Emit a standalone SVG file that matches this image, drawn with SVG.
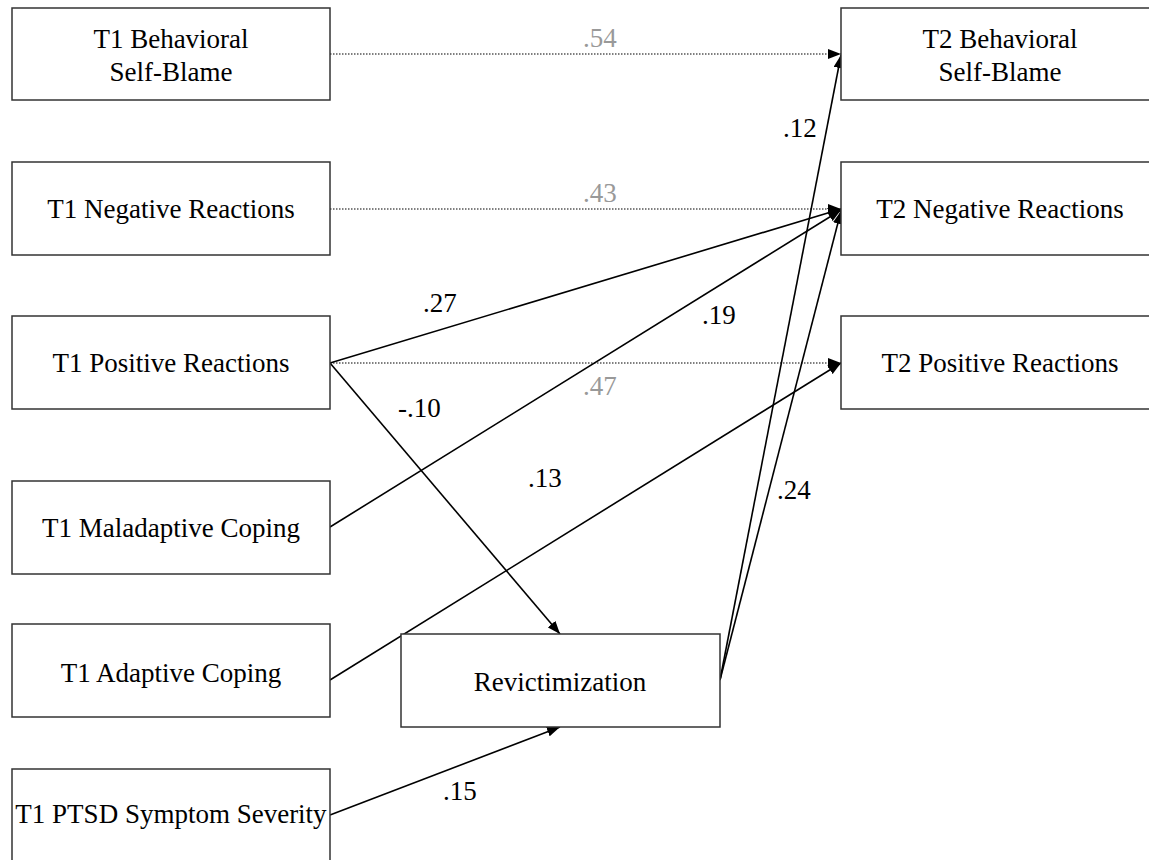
<svg xmlns="http://www.w3.org/2000/svg" width="1149" height="860" viewBox="0 0 1149 860">
<style>
.box{fill:#fff;stroke:#333;stroke-width:1.5}
text{font-family:'Liberation Serif','Tinos','Times New Roman','DejaVu Serif',serif;font-size:27px;fill:#000}
.t{text-anchor:middle}
.gray{fill:#999}
.solid{stroke:#000;stroke-width:1.6;fill:none}
.dot{stroke:#000;stroke-width:1.2;fill:none;stroke-dasharray:1.5 1.5}
</style>
<defs>
<marker id="ah" markerUnits="userSpaceOnUse" markerWidth="13" markerHeight="10" viewBox="0 0 13 10" refX="13" refY="5" orient="auto">
<path d="M0,0 L13,5 L0,10 z" fill="#000"/>
</marker>
</defs>
<rect width="1149" height="860" fill="#fff"/>
<g id="connectors">
<line class="dot" x1="330" y1="54" x2="841" y2="54" marker-end="url(#ah)"/>
<line class="dot" x1="330" y1="209" x2="841" y2="209" marker-end="url(#ah)"/>
<line class="dot" x1="330" y1="363" x2="841" y2="363" marker-end="url(#ah)"/>
<line class="solid" x1="330" y1="363" x2="841" y2="209" marker-end="url(#ah)"/>
<line class="solid" x1="330" y1="363" x2="560" y2="634" marker-end="url(#ah)"/>
<line class="solid" x1="330" y1="527" x2="841" y2="210" marker-end="url(#ah)"/>
<line class="solid" x1="330" y1="680" x2="841" y2="363" marker-end="url(#ah)"/>
<line class="solid" x1="330" y1="815" x2="560" y2="727" marker-end="url(#ah)"/>
<line class="solid" x1="720" y1="680" x2="841" y2="55" marker-end="url(#ah)"/>
<line class="solid" x1="720" y1="680" x2="841" y2="211" marker-end="url(#ah)"/>
<g font-family="Liberation Serif, serif">
<text class="gray" x="583" y="47">.54</text>
<text class="gray" x="583" y="202">.43</text>
<text class="gray" x="583" y="395">.47</text>
<text x="423" y="312">.27</text>
<text x="398" y="417">-.10</text>
<text x="702" y="324">.19</text>
<text x="528" y="487">.13</text>
<text x="783" y="137">.12</text>
<text x="777" y="499">.24</text>
<text x="443" y="800">.15</text>
</g>
</g>
<g id="t1-behavioral"><rect class="box" x="12" y="8" width="318" height="92"/><text class="t" x="171" y="48">T1 Behavioral</text><text class="t" x="171" y="81">Self-Blame</text></g>
<g id="t1-negative"><rect class="box" x="12" y="162" width="318" height="93"/><text class="t" x="171" y="218">T1 Negative Reactions</text></g>
<g id="t1-positive"><rect class="box" x="12" y="316" width="318" height="93"/><text class="t" x="171" y="372">T1 Positive Reactions</text></g>
<g id="t1-maladaptive"><rect class="box" x="12" y="481" width="318" height="93"/><text class="t" x="171" y="537">T1 Maladaptive Coping</text></g>
<g id="t1-adaptive"><rect class="box" x="12" y="624" width="318" height="93"/><text class="t" x="171" y="682">T1 Adaptive Coping</text></g>
<g id="t1-ptsd"><rect class="box" x="12" y="769" width="318" height="93"/><text class="t" x="171" y="823">T1 PTSD Symptom Severity</text></g>
<g id="revictimization"><rect class="box" x="401" y="634" width="319" height="93"/><text class="t" x="560" y="691">Revictimization</text></g>
<g id="t2-behavioral"><rect class="box" x="841" y="8" width="318" height="92"/><text class="t" x="1000" y="48">T2 Behavioral</text><text class="t" x="1000" y="81">Self-Blame</text></g>
<g id="t2-negative"><rect class="box" x="841" y="162" width="318" height="93"/><text class="t" x="1000" y="218">T2 Negative Reactions</text></g>
<g id="t2-positive"><rect class="box" x="841" y="316" width="318" height="93"/><text class="t" x="1000" y="372">T2 Positive Reactions</text></g>
</svg>
